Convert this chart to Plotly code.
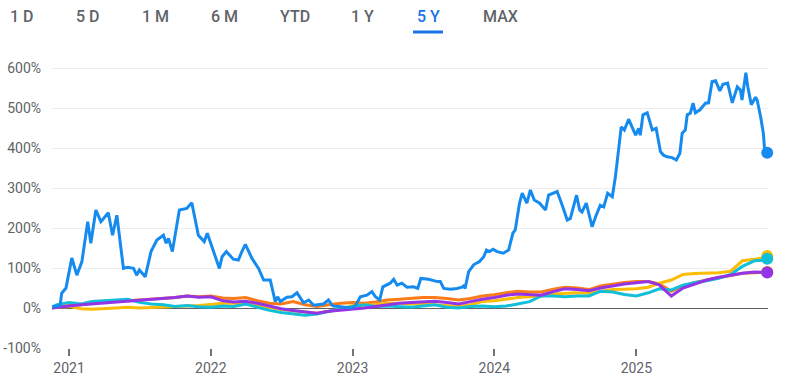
import plotly.graph_objects as go

# ---------------- data ----------------
blue_dates = [
    "2020-11-18", "2020-11-22", "2020-12-09", "2020-12-13", "2020-12-24", "2021-01-08",
    "2021-01-21", "2021-02-03", "2021-02-18", "2021-02-26", "2021-03-11", "2021-03-24",
    "2021-04-12", "2021-04-23", "2021-05-04", "2021-05-21", "2021-05-31", "2021-06-16",
    "2021-06-24", "2021-07-01", "2021-07-16", "2021-07-31", "2021-08-15", "2021-09-01",
    "2021-09-08", "2021-09-14", "2021-09-24", "2021-10-12", "2021-10-31", "2021-11-13",
    "2021-11-30", "2021-12-15", "2021-12-23", "2022-01-08", "2022-01-23", "2022-01-30",
    "2022-02-10", "2022-02-28", "2022-03-13", "2022-03-22", "2022-03-31", "2022-04-17",
    "2022-05-04", "2022-05-17", "2022-06-03", "2022-06-16", "2022-06-22", "2022-06-29",
    "2022-07-16", "2022-07-29", "2022-08-11", "2022-08-28", "2022-09-10", "2022-09-23",
    "2022-10-18", "2022-10-31", "2022-11-09", "2022-11-13", "2022-12-09", "2022-12-31",
    "2023-01-08", "2023-01-21", "2023-02-07", "2023-02-20", "2023-03-01", "2023-03-12",
    "2023-03-20", "2023-04-08", "2023-04-17", "2023-04-26", "2023-05-08", "2023-05-21",
    "2023-06-07", "2023-06-18", "2023-06-26", "2023-07-16", "2023-08-07", "2023-08-15",
    "2023-08-24", "2023-09-10", "2023-09-27", "2023-10-10", "2023-10-14", "2023-10-18",
    "2023-10-27", "2023-11-09", "2023-11-18", "2023-11-24", "2023-12-05", "2023-12-12",
    "2023-12-20", "2023-12-29", "2024-01-08", "2024-01-24", "2024-02-07", "2024-02-18",
    "2024-02-24", "2024-03-06", "2024-03-13", "2024-03-25", "2024-04-03", "2024-04-13",
    "2024-04-27", "2024-05-12", "2024-05-20", "2024-06-02", "2024-06-11", "2024-06-24",
    "2024-07-07", "2024-07-15", "2024-07-31", "2024-08-08", "2024-08-14", "2024-08-25",
    "2024-09-09", "2024-09-18", "2024-09-30", "2024-10-09", "2024-10-19", "2024-10-31",
    "2024-11-08", "2024-11-14", "2024-11-23", "2024-12-01", "2024-12-12", "2024-12-30",
    "2025-01-07", "2025-01-11", "2025-01-18", "2025-01-29", "2025-02-11", "2025-02-21",
    "2025-03-04", "2025-03-12", "2025-03-21", "2025-04-03", "2025-04-14", "2025-04-23",
    "2025-04-29", "2025-05-07", "2025-05-12", "2025-05-20", "2025-05-27", "2025-06-02",
    "2025-06-13", "2025-06-28", "2025-07-06", "2025-07-15", "2025-07-24", "2025-08-04",
    "2025-08-12", "2025-08-24", "2025-09-05", "2025-09-18", "2025-09-26", "2025-09-30",
    "2025-10-10", "2025-10-15", "2025-10-24", "2025-11-04", "2025-11-08", "2025-11-17",
    "2025-11-24", "2025-11-27", "2025-12-04",
]
blue_values = [
    4, 3, 7, 37, 50, 125,
    82, 116, 216, 162, 245, 216,
    238, 182, 232, 99, 102, 99,
    82, 95, 78, 141, 170, 182,
    162, 174, 141, 245, 249, 263,
    182, 166, 187, 141, 99, 128,
    141, 122, 120, 141, 159, 124,
    99, 70, 70, 16, 28, 16,
    27, 28, 38, 13, 20, 7,
    10, 20, 7, 5, 3, 0,
    5, 28, 32, 41, 28, 20,
    53, 62, 72, 57, 62, 52,
    53, 49, 74, 72, 66, 66,
    49, 47, 49, 52, 55, 49,
    91, 108, 113, 116, 128, 145,
    141, 147, 141, 137, 145, 187,
    195, 262, 287, 262, 295, 270,
    262, 245, 282, 287, 291, 257,
    220, 224, 282, 245, 240, 262,
    203, 228, 257, 253, 287, 278,
    328, 378, 453, 445, 472, 432,
    449, 432, 483, 488, 445, 449,
    391, 382, 378, 376, 370, 387,
    437, 445, 483, 487, 512, 488,
    495, 512, 513, 566, 568, 543,
    559, 562, 513, 553, 545, 520,
    588, 553, 508, 527, 520, 478,
    437, 399, 388,
]

small_dates = [
    "2020-11-18", "2020-12-01",
    "2021-01-01", "2021-02-01", "2021-03-01", "2021-04-01", "2021-05-01", "2021-06-01",
    "2021-07-01", "2021-08-01", "2021-09-01", "2021-10-01", "2021-11-01", "2021-12-01",
    "2022-01-01", "2022-02-01", "2022-03-01", "2022-04-01", "2022-05-01", "2022-06-01",
    "2022-07-01", "2022-08-01", "2022-09-01", "2022-10-01", "2022-11-01", "2022-12-01",
    "2023-01-01", "2023-02-01", "2023-03-01", "2023-04-01", "2023-05-01", "2023-06-01",
    "2023-07-01", "2023-08-01", "2023-09-01", "2023-10-01", "2023-11-01", "2023-12-01",
    "2024-01-01", "2024-02-01", "2024-03-01", "2024-04-01", "2024-05-01", "2024-06-01",
    "2024-07-01", "2024-08-01", "2024-09-01", "2024-10-01", "2024-11-01", "2024-12-01",
    "2025-01-01", "2025-02-01", "2025-03-01", "2025-04-01", "2025-05-01", "2025-06-01",
    "2025-07-01", "2025-08-01", "2025-09-01", "2025-10-01", "2025-11-01", "2025-12-01",
    "2025-12-04",
]
cyan_values = [
    3, 8,
    14, 10, 16, 18, 20, 22, 14, 10, 8, 4, 6, 3,
    2, 5, 4, 10, 2, -6, -11, -14, -18, -15, -8, -2,
    4, 8, 4, 5, 4, 2, 5, 8, 2, 0, 4, 5,
    3, 5, 10, 16, 30, 30, 28, 30, 30, 42, 40, 34,
    30, 38, 48, 45, 57, 64, 68, 74, 84, 104, 118, 120,
    123,
]
yellow_values = [
    0, 2,
    4, -2, -3, -2, 0, 2, 0, 1, 2, 3, 4, 6,
    9, 12, 12, 10, 6, 0, -4, -7, -10, -13, -8, -3,
    6, 8, 8, 12, 12, 10, 12, 8, 6, 4, 8, 16,
    18, 22, 26, 28, 30, 35, 37, 38, 37, 42, 46, 47,
    48, 52, 62, 70, 84, 86, 87, 88, 92, 118, 122, 126,
    130,
]
orange_values = [
    1, 3,
    6, 8, 12, 14, 18, 18, 20, 22, 24, 26, 30, 28,
    30, 25, 24, 26, 18, 12, 10, 16, 8, 4, 8, 12,
    14, 12, 15, 20, 22, 24, 26, 26, 24, 20, 24, 30,
    33, 38, 42, 40, 40, 47, 52, 50, 46, 55, 60, 64,
    66, 66, 60, 42, 55, 64, 70, 76, 82, 87, 88, 90,
    90,
]
purple_values = [
    0, 2,
    5, 8, 10, 12, 16, 18, 20, 22, 24, 26, 30, 27,
    28, 18, 15, 17, 12, 5, -2, -6, -10, -13, -8, -6,
    -3, 0, 4, 8, 12, 14, 16, 17, 14, 10, 16, 22,
    26, 32, 35, 33, 32, 41, 48, 46, 43, 50, 55, 60,
    63, 66, 58, 30, 50, 60, 70, 77, 82, 87, 90, 90,
    89,
]

y_ticks = [-100, 0, 100, 200, 300, 400, 500, 600]
y_tick_labels = ["-100%", "0%", "100%", "200%", "300%", "400%", "500%", "600%"]
x_ticks = ["2021-01-01", "2022-01-01", "2023-01-01", "2024-01-01", "2025-01-01"]
x_tick_labels = ["2021", "2022", "2023", "2024", "2025"]

tabs = ["1 D", "5 D", "1 M", "6 M", "YTD", "1 Y", "5 Y", "MAX"]
selected_tab = "5 Y"

# ---------------- layout geometry (pixels) ----------------
W, H = 788, 386
L, R, T, B = 52, 20, 60, 38
PW, PH = W - L - R, H - T - B


def px_x(px):
    return (px - L) / PW


def px_y(py):
    return (H - B - py) / PH


series = [
    ("orange", small_dates, orange_values, "#fa7b17"),
    ("yellow", small_dates, yellow_values, "#fbbc04"),
    ("cyan", small_dates, cyan_values, "#12bfd9"),
    ("purple", small_dates, purple_values, "#9334e6"),
    ("blue", blue_dates, blue_values, "#168bef"),
]

fig = go.Figure()
for name, xs, ys, col in series:
    fig.add_trace(go.Scatter(
        x=xs, y=ys, mode="lines", name=name,
        line=dict(color=col, width=3, shape="linear"),
        hoverinfo="skip", showlegend=False,
    ))
for name, xs, ys, col in series:
    fig.add_trace(go.Scatter(
        x=[xs[-1]], y=[ys[-1]], mode="markers", name=name + " end",
        marker=dict(color=col, size=12, line=dict(width=0)),
        hoverinfo="skip", showlegend=False, cliponaxis=False,
    ))

tab_centers = [22, 88, 155, 224, 295, 362, 428, 500]
annotations = []
for label, cx in zip(tabs, tab_centers):
    annotations.append(dict(
        text=label, xref="paper", yref="paper", x=px_x(cx), y=px_y(17),
        xanchor="center", yanchor="middle", showarrow=False,
        font=dict(family="Roboto", size=16, weight=500,
                  color="#1a73e8" if label == selected_tab else "#5f6368"),
    ))

sel_cx = tab_centers[tabs.index(selected_tab)]
shapes = [dict(
    type="line", xref="paper", yref="paper",
    x0=px_x(sel_cx - 15), x1=px_x(sel_cx + 15), y0=px_y(32), y1=px_y(32),
    line=dict(color="#1a73e8", width=3),
)]

fig.update_layout(
    width=W, height=H,
    margin=dict(l=L, r=R, t=T, b=B, pad=0, autoexpand=False),
    paper_bgcolor="white", plot_bgcolor="white",
    font=dict(family="Roboto", color="#5f6368"),
    showlegend=False,
    annotations=annotations,
    shapes=shapes,
    xaxis=dict(
        type="date", range=["2020-11-18", "2025-12-06"],
        tickvals=x_ticks, ticktext=x_tick_labels,
        showgrid=False, zeroline=False, showline=False,
        ticks="outside", ticklen=7, tickwidth=2, tickcolor="#70757a",
        tickfont=dict(family="Roboto", size=14, color="#5f6368"),
        automargin=False, fixedrange=True,
    ),
    yaxis=dict(
        range=[-100, 620],
        tickvals=y_ticks, ticktext=y_tick_labels,
        showgrid=True, gridcolor="#ececec", gridwidth=1,
        zeroline=True, zerolinecolor="#5f6368", zerolinewidth=1,
        showline=False, ticks="",
        ticklabelstandoff=10,
        tickfont=dict(family="Roboto", size=14, color="#5f6368"),
        automargin=False, fixedrange=True,
    ),
)

fig.write_html(
    "out.html",
    config={"displayModeBar": False},
    post_script="document.body.style.margin='0';",
)
